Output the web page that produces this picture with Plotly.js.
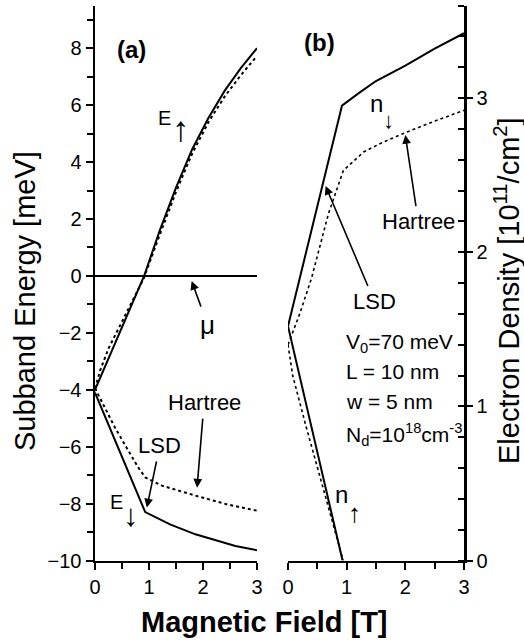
<!DOCTYPE html>
<html><head><meta charset="utf-8">
<script src="https://cdn.plot.ly/plotly-3.0.1.min.js"></script>
<style>html,body{margin:0;padding:0;background:#fff}</style>
</head><body>
<div id="chart" style="width:524px;height:643px"></div>
<script>
// ---------- Panel (a): subband energies [meV] vs magnetic field [T] ----------
const B_EupLSD = [0, 0.91, 1.2, 1.5, 1.8, 2.1, 2.4, 2.7, 3.0];
const E_upLSD  = [-4.0, 0, 1.6, 3.1, 4.45, 5.55, 6.5, 7.3, 8.0];
const B_EupH   = [0, 0.1, 0.25, 0.45, 0.67, 0.9, 1.2, 1.5, 1.8, 2.1, 2.4, 2.7, 3.0];
const E_upH    = [-3.95, -3.3, -2.55, -1.8, -0.95, -0.1, 1.45, 2.95, 4.3, 5.4, 6.3, 7.05, 7.73];
const B_EdnLSD = [0, 0.93, 1.39, 1.86, 2.6, 3.0];
const E_dnLSD  = [-4.1, -8.3, -8.73, -9.08, -9.49, -9.64];
const B_EdnH   = [0, 0.19, 0.37, 0.62, 0.80, 0.93, 1.24, 1.86, 2.47, 3.0];
const E_dnH    = [-3.95, -4.63, -5.33, -6.15, -6.73, -7.08, -7.37, -7.72, -8.04, -8.25];
const B_mu     = [0, 3];
const E_mu     = [0, 0];

// ---------- Panel (b): electron densities [1e11/cm^2] ----------
const B_ndnLSD = [0, 0.58, 0.92, 1.2, 1.5, 2.0, 2.5, 3.0];
const n_dnLSD  = [1.52, 2.43, 2.95, 3.03, 3.11, 3.21, 3.32, 3.42];
const B_ndnH   = [0, 0.2, 0.4, 0.69, 0.944, 1.29, 1.6, 2.03, 2.5, 3.0];
const n_dnH    = [1.4, 1.6, 1.83, 2.25, 2.53, 2.65, 2.71, 2.78, 2.85, 2.92];
const B_nupLSD = [0, 0.93];
const n_upLSD  = [1.52, 0];
const B_nupH   = [0, 0.08, 0.3, 0.64, 0.94];
const n_upH    = [1.4, 1.2, 0.88, 0.41, 0];

const xTickVals = [0, 1, 2, 3];
const params = ["V<sub>0</sub>=70 meV", "L = 10 nm", "w = 5 nm", "N<sub>d</sub>=10<sup>18</sup>cm<sup>-3</sup>"];

const FONT = "Liberation Sans, Arial, Helvetica, sans-serif";
const solid = {color: "#000", width: 2};
const dotA = {color: "#000", width: 2, dash: "dot"};
const dotB = {color: "#000", width: 1.6, dash: "dot"};

const traces = [
  {x: B_mu, y: E_mu, xaxis: "x", yaxis: "y", mode: "lines", line: solid, name: "μ"},
  {x: B_EupLSD, y: E_upLSD, xaxis: "x", yaxis: "y", mode: "lines", line: solid, name: "E↑ LSD"},
  {x: B_EupH, y: E_upH, xaxis: "x", yaxis: "y", mode: "lines", line: dotA, name: "E↑ Hartree"},
  {x: B_EdnLSD, y: E_dnLSD, xaxis: "x", yaxis: "y", mode: "lines", line: solid, name: "E↓ LSD"},
  {x: B_EdnH, y: E_dnH, xaxis: "x", yaxis: "y", mode: "lines", line: dotA, name: "E↓ Hartree"},
  {x: B_ndnLSD, y: n_dnLSD, xaxis: "x2", yaxis: "y2", mode: "lines", line: solid, name: "n↓ LSD"},
  {x: B_ndnH, y: n_dnH, xaxis: "x2", yaxis: "y2", mode: "lines", line: dotB, name: "n↓ Hartree"},
  {x: B_nupLSD, y: n_upLSD, xaxis: "x2", yaxis: "y2", mode: "lines", line: solid, name: "n↑ LSD"},
  {x: B_nupH, y: n_upH, xaxis: "x2", yaxis: "y2", mode: "lines", line: dotB, name: "n↑ Hartree"}
];

const xdA = [95/524, 257/524];
const xdB = [288/524, 464/524];
const yd = [1 - 560.5/643, 1 - 5.5/643];
const baseAx = {showgrid: false, zeroline: false, showline: true, linecolor: "#000", linewidth: 2.5,
  tickcolor: "#000", tickwidth: 2, tickfont: {family: FONT, size: 20, color: "#000"}, fixedrange: true};

const layout = {
  width: 524, height: 643,
  margin: {l: 0, r: 0, t: 0, b: 0},
  paper_bgcolor: "#fff", plot_bgcolor: "#fff",
  showlegend: false,
  font: {family: FONT, color: "#000"},
  xaxis: Object.assign({}, baseAx, {domain: xdA, anchor: "y", range: [0, 3], tickvals: xTickVals,
    ticks: "outside", ticklen: 7, minor: {dtick: 0.5, ticks: "outside", ticklen: 6, tickwidth: 2, tickcolor: "#000"}}),
  yaxis: Object.assign({}, baseAx, {domain: yd, anchor: "x", range: [-10, 9.5], dtick: 2, tick0: 0,
    ticks: "outside", ticklen: 7, minor: {dtick: 1, ticks: "outside", ticklen: 6, tickwidth: 2, tickcolor: "#000"}}),
  xaxis3: Object.assign({}, baseAx, {overlaying: "x", side: "top", anchor: "y", range: [0, 3], dtick: 0.5,
    ticks: "inside", ticklen: 6, showticklabels: false}),
  yaxis3: Object.assign({}, baseAx, {overlaying: "y", side: "right", anchor: "x", range: [-10, 9.5], dtick: 1, tick0: 0,
    ticks: "inside", ticklen: 6, showticklabels: false}),
  xaxis2: Object.assign({}, baseAx, {domain: xdB, anchor: "y2", range: [0, 3], tickvals: xTickVals,
    ticks: "outside", ticklen: 7, minor: {dtick: 0.5, ticks: "outside", ticklen: 6, tickwidth: 2, tickcolor: "#000"}}),
  yaxis2: Object.assign({}, baseAx, {domain: yd, anchor: "x2", side: "right", range: [0, 3.6], dtick: 1, tick0: 0,
    ticks: "outside", ticklen: 6, minor: {dtick: 0.2, ticks: "inside", ticklen: 6, tickwidth: 2, tickcolor: "#000"}}),
  xaxis4: Object.assign({}, baseAx, {overlaying: "x2", side: "top", anchor: "y2", range: [0, 3], tickvals: [1, 2],
    ticks: "inside", ticklen: 6, showticklabels: false}),
  yaxis4: Object.assign({}, baseAx, {overlaying: "y2", side: "left", anchor: "x2", range: [0, 3.6], dtick: 0.2, tick0: 0,
    ticks: "inside", ticklen: 6, showticklabels: false}),
  annotations: []
};

const A = layout.annotations;
function txt(t, xref, yref, x, y, size, extra) {
  A.push(Object.assign({text: t, xref: xref, yref: yref, x: x, y: y, showarrow: false,
    font: {family: FONT, size: size, color: "#000"}, xanchor: "center", yanchor: "middle"}, extra || {}));
}
function arrowTxt(t, xref, yref, x, y, ax, ay, size) {
  A.push({text: t, xref: xref, yref: yref, x: x, y: y, ax: ax, ay: ay, showarrow: true,
    arrowhead: 2, arrowsize: 1.1, arrowwidth: 1.6, arrowcolor: "#000", standoff: 0, startstandoff: 2,
    font: {family: FONT, size: size, color: "#000"}});
}
const tight = {xanchor: "left", borderpad: 0};
const glyph = {xanchor: "left", borderpad: 0};

// axis titles
txt("Subband Energy [meV]", "paper", "paper", 25/524, 1 - 301/643, 29, {textangle: -90});
txt("Electron Density [10<sup>11</sup>/cm<sup>2</sup>]", "paper", "paper", 507/524, 1 - 291/643, 29, {textangle: -90});
txt("<b>Magnetic Field [T]</b>", "paper", "paper", 264/524, 1 - 622/643, 29);

// panel (a)
txt("<b>(a)</b>", "x", "y", 0.67, 7.94, 24);
txt("E", "x", "y", 1.15, 5.53, 20, tight);
txt("↑", "x", "y", 1.40, 5.17, 35, glyph);
txt("E", "x", "y", 0.25, -7.96, 20, tight);
txt("↓", "x", "y", 0.50, -8.43, 31, glyph);
arrowTxt("μ", "x", "y", 1.79, -0.18, 16, 44, 26);
arrowTxt("Hartree", "x", "y", 1.89, -7.44, 7, -85, 22);
arrowTxt("LSD", "x", "y", 0.96, -8.14, 13, -62, 22);

// panel (b)
txt("<b>(b)</b>", "x2", "y2", 0.54, 3.36, 24);
txt("n", "x2", "y2", 1.374, 2.962, 24, tight);
txt("↓", "x2", "y2", 1.60, 2.855, 22, glyph);
txt("n", "x2", "y2", 0.776, 0.425, 24, tight);
txt("↑", "x2", "y2", 1.005, 0.305, 26, glyph);
arrowTxt("Hartree", "x2", "y2", 2.0, 2.76, 13, 87, 22);
arrowTxt("LSD", "x2", "y2", 0.64, 2.43, 49, 116, 22);
const paramY = [1.413, 1.225, 1.03, 0.817];
params.forEach((p, i) => txt(p, "x2", "y2", 0.956, paramY[i], 21, {xanchor: "left"}));

Plotly.newPlot("chart", traces, layout, {staticPlot: true, displayModeBar: false});
</script>
</body></html>
